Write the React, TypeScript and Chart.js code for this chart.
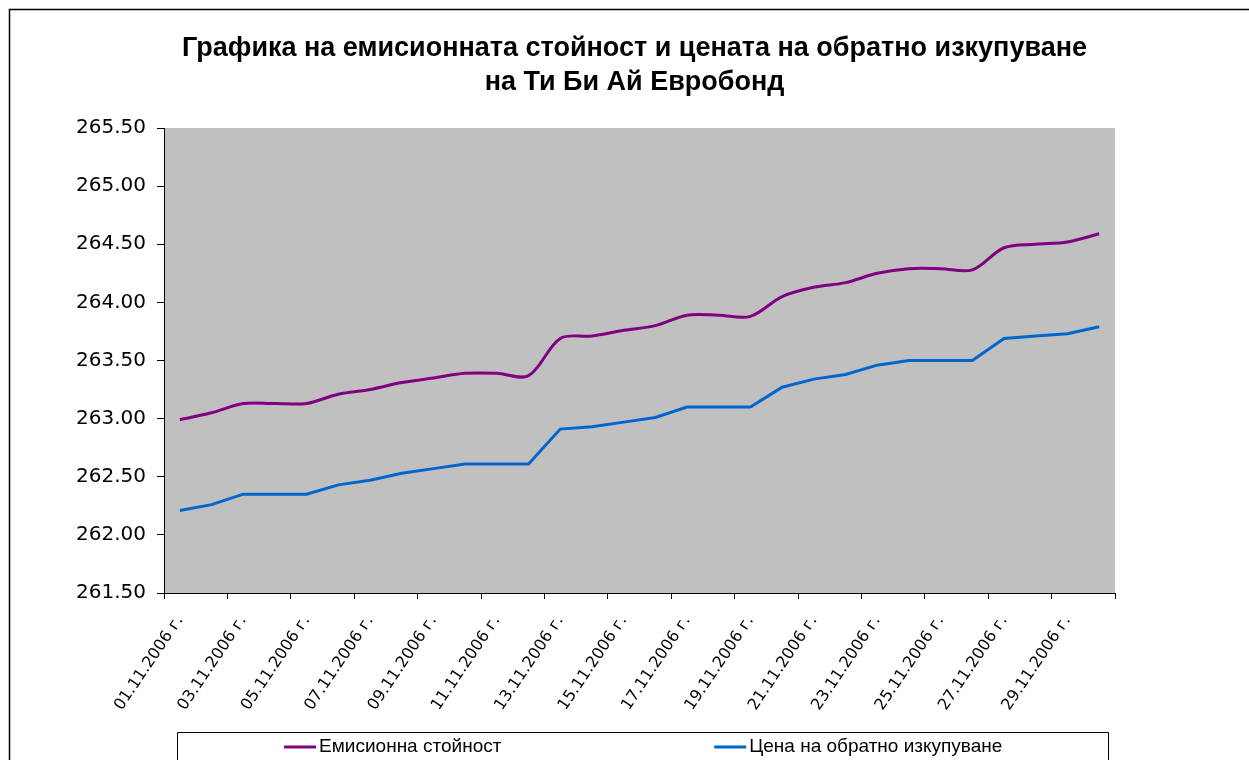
import { useEffect, useRef } from 'react';
import { Chart, registerables } from 'chart.js';

Chart.register(...registerables);

const dates = [
  '01.11.2006 г.', '02.11.2006 г.', '03.11.2006 г.', '04.11.2006 г.', '05.11.2006 г.',
  '06.11.2006 г.', '07.11.2006 г.', '08.11.2006 г.', '09.11.2006 г.', '10.11.2006 г.',
  '11.11.2006 г.', '12.11.2006 г.', '13.11.2006 г.', '14.11.2006 г.', '15.11.2006 г.',
  '16.11.2006 г.', '17.11.2006 г.', '18.11.2006 г.', '19.11.2006 г.', '20.11.2006 г.',
  '21.11.2006 г.', '22.11.2006 г.', '23.11.2006 г.', '24.11.2006 г.', '25.11.2006 г.',
  '26.11.2006 г.', '27.11.2006 г.', '28.11.2006 г.', '29.11.2006 г.', '30.11.2006 г.',
];

const emissionValue = [
  262.99, 263.05, 263.13, 263.13, 263.13, 263.21, 263.25, 263.31, 263.35, 263.39,
  263.39, 263.37, 263.69, 263.71, 263.76, 263.80, 263.89, 263.89, 263.88, 264.05,
  264.13, 264.17, 264.25, 264.29, 264.29, 264.28, 264.47, 264.50, 264.52, 264.59,
];

const redemptionPrice = [
  262.21, 262.26, 262.35, 262.35, 262.35, 262.43, 262.47, 262.53, 262.57, 262.61,
  262.61, 262.61, 262.91, 262.93, 262.97, 263.01, 263.10, 263.10, 263.10, 263.27,
  263.34, 263.38, 263.46, 263.50, 263.50, 263.50, 263.69, 263.71, 263.73, 263.79,
];

const seriesNames = ['Емисионна стойност', 'Цена на обратно изкупуване'];
const seriesColors = ['#800080', '#0066CC'];
const titleLines = [
  'Графика на емисионната стойност и цената на обратно изкупуване',
  'на Ти Би Ай Евробонд',
];
const yMin = 261.5;
const yMax = 265.5;
const yStep = 0.5;

const decorPlugin = {
  id: 'excelDecor',
  beforeDraw(chart: any) {
    const { ctx, chartArea: a, width, height } = chart;
    ctx.save();
    ctx.fillStyle = '#ffffff';
    ctx.fillRect(0, 0, width, height);
    ctx.strokeStyle = '#000000';
    ctx.lineWidth = 1.5;
    ctx.beginPath();
    ctx.moveTo(9.5, height + 5);
    ctx.lineTo(9.5, 9.5);
    ctx.lineTo(width + 5, 9.5);
    ctx.stroke();
    ctx.fillStyle = '#C0C0C0';
    ctx.fillRect(a.left, a.top, a.right - a.left, a.bottom - a.top);
    ctx.fillStyle = '#000000';
    ctx.font = 'bold 27px "Liberation Sans", Arial, sans-serif';
    ctx.textAlign = 'center';
    ctx.textBaseline = 'alphabetic';
    const cx = (a.left + a.right) / 2 - 5;
    titleLines.forEach((t, i) => ctx.fillText(t, cx, 56 + i * 34));
    ctx.restore();
  },
  afterDraw(chart: any) {
    const { ctx, chartArea: a, height } = chart;
    const boxLeft = a.left + 13;
    const boxRight = a.right - 7;
    const boxTop = a.bottom + 139;
    ctx.save();
    ctx.strokeStyle = '#000000';
    ctx.lineWidth = 1;
    ctx.beginPath();
    ctx.moveTo(boxLeft + 0.5, height + 5);
    ctx.lineTo(boxLeft + 0.5, boxTop + 0.5);
    ctx.lineTo(boxRight + 0.5, boxTop + 0.5);
    ctx.lineTo(boxRight + 0.5, height + 5);
    ctx.stroke();
    ctx.font = '19px "Liberation Sans", Arial, sans-serif';
    ctx.textBaseline = 'middle';
    ctx.textAlign = 'left';
    const half = (boxRight - boxLeft) / 2;
    const midY = boxTop + 15;
    chart.data.datasets.forEach((ds: any, i: number) => {
      const sample = 32;
      const gap = 3;
      const tw = ctx.measureText(ds.label).width;
      const itemW = sample + gap + tw;
      const x0 = boxLeft + half * i + (half - itemW) / 2 - 17;
      ctx.strokeStyle = ds.borderColor;
      ctx.lineWidth = 3;
      ctx.beginPath();
      ctx.moveTo(x0, midY);
      ctx.lineTo(x0 + sample, midY);
      ctx.stroke();
      ctx.fillStyle = '#000000';
      ctx.fillText(ds.label, x0 + sample + gap, midY);
    });
    ctx.restore();
  },
};

export default function App() {
  const ref = useRef<HTMLCanvasElement | null>(null);

  useEffect(() => {
    document.body.style.margin = '0';
    document.body.style.overflow = 'hidden';
    const canvas = ref.current;
    if (!canvas) return;
    const chart = new Chart(canvas, {
      type: 'line',
      data: {
        labels: dates,
        datasets: [
          {
            label: seriesNames[0],
            data: emissionValue,
            borderColor: seriesColors[0],
            backgroundColor: seriesColors[0],
            borderWidth: 3,
            pointRadius: 0,
            tension: 0.33,
            fill: false,
          },
          {
            label: seriesNames[1],
            data: redemptionPrice,
            borderColor: seriesColors[1],
            backgroundColor: seriesColors[1],
            borderWidth: 3,
            pointRadius: 0,
            tension: 0,
            fill: false,
          },
        ],
      },
      plugins: [decorPlugin],
      options: {
        responsive: false,
        animation: false,
        events: [],
        layout: { padding: { top: 128, right: 134, bottom: 0, left: 0 } },
        plugins: {
          legend: { display: false },
          title: { display: false },
          tooltip: { enabled: false },
        },
        scales: {
          x: {
            type: 'category',
            offset: true,
            afterFit: (s: any) => { s.height = 167; },
            border: { display: true, color: '#000000', width: 1 },
            grid: {
              offset: true,
              drawOnChartArea: false,
              drawTicks: true,
              tickLength: 6,
              tickWidth: 1,
              tickColor: (c: any) =>
                c.index === undefined || c.index % 2 === 0 ? '#000000' : 'rgba(0,0,0,0)',
            },
            ticks: {
              autoSkip: false,
              maxRotation: 56,
              minRotation: 56,
              padding: 13,
              color: '#000000',
              font: { family: '"DejaVu Sans", Verdana, sans-serif', size: 16 },
              callback: (_v: any, i: number) => (i % 2 === 0 ? dates[i] : ''),
            },
          },
          y: {
            min: yMin,
            max: yMax,
            afterFit: (s: any) => { s.width = 164; },
            border: { display: true, color: '#000000', width: 1 },
            grid: {
              drawOnChartArea: false,
              drawTicks: true,
              tickLength: 7,
              tickColor: '#000000',
            },
            ticks: {
              stepSize: yStep,
              padding: 11,
              color: '#000000',
              font: { family: '"DejaVu Sans", Verdana, sans-serif', size: 20 },
              callback: (v: any) => Number(v).toFixed(2),
            },
          },
        },
      },
    });
    return () => chart.destroy();
  }, []);

  return <canvas ref={ref} width={1249} height={760} style={{ display: 'block' }} />;
}
